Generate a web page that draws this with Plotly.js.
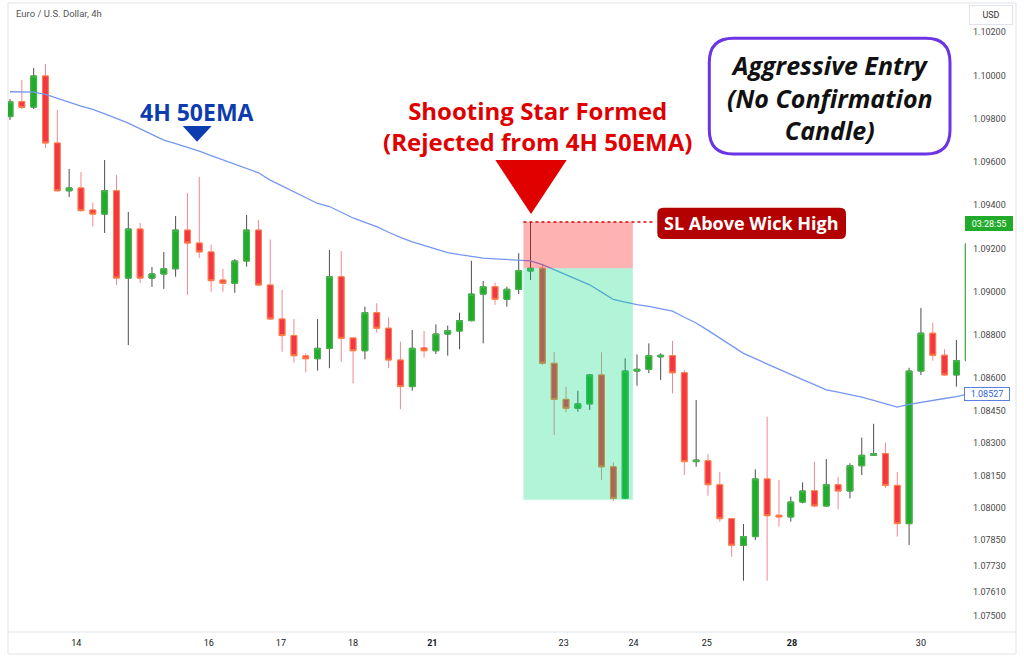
<!DOCTYPE html>
<html><head><meta charset="utf-8">
<script src="https://cdn.plot.ly/plotly-3.0.1.min.js"></script>
<style>html,body{margin:0;padding:0;background:#fff}#chart{width:1024px;height:662px}</style>
</head><body><div id="chart"></div>
<script>
// ---- data (EUR/USD 4h candles) ----
const opens = [1.09810,1.09879,1.09854,1.09998,1.09688,1.09467,1.09480,1.09378,1.09359,1.09467,
1.09063,1.09290,1.09063,1.09082,1.09106,1.09285,1.09225,1.09184,1.09054,1.09039,
1.09142,1.09285,1.09031,1.08874,1.08797,1.08703,1.08690,1.08738,1.09069,1.08786,
1.08727,1.08903,1.08831,1.08684,1.08561,1.08740,1.08727,1.08804,1.08818,1.08866,
1.08989,1.09023,1.08965,1.09011,1.09096,1.09108,1.08669,1.08502,1.08461,1.08481,
1.08615,1.08190,1.08044,1.08633,1.08641,1.08699,1.08704,1.08625,1.08214,1.08218,
1.08107,1.07950,1.07827,1.07867,1.08134,1.07966,1.07958,1.08027,1.08079,1.08009,
1.08107,1.08078,1.08195,1.08243,1.08251,1.08104,1.07927,1.08633,1.08808,1.08706,
1.08615,1.08681];
const highs = [1.09891,1.09979,1.10035,1.10053,1.09841,1.09568,1.09554,1.09412,1.09609,1.09540,
1.09369,1.09318,1.09114,1.09184,1.09350,1.09457,1.09531,1.09217,1.09105,1.09151,
1.09355,1.09332,1.09242,1.09008,1.08874,1.08715,1.08874,1.09193,1.09188,1.08787,
1.08931,1.08946,1.08882,1.08769,1.08823,1.08818,1.08849,1.08843,1.08903,1.09143,
1.09050,1.09042,1.09023,1.09178,1.09322,1.09124,1.08720,1.08561,1.08542,1.08619,
1.08720,1.08211,1.08692,1.08710,1.08761,1.08715,1.08772,1.08638,1.08499,1.08249,
1.08167,1.07953,1.07925,1.08178,1.08422,1.08129,1.08052,1.08118,1.08214,1.08226,
1.08144,1.08206,1.08325,1.08389,1.08302,1.08166,1.08648,1.08925,1.08857,1.08734,
1.08777,1.09221];
const lows = [1.09794,1.09845,1.09845,1.09665,1.09464,1.09438,1.09370,1.09301,1.09272,1.09031,
1.08753,1.09040,1.09022,1.09013,1.09069,1.08985,1.09156,1.09000,1.09000,1.08995,
1.09116,1.09026,1.08869,1.08722,1.08672,1.08627,1.08635,1.08646,1.08676,1.08576,
1.08687,1.08810,1.08646,1.08456,1.08542,1.08695,1.08712,1.08704,1.08734,1.08863,
1.08761,1.08939,1.08931,1.08989,1.09054,1.08661,1.08337,1.08442,1.08445,1.08453,
1.08129,1.08032,1.08040,1.08565,1.08623,1.08592,1.08530,1.08152,1.08190,1.08056,
1.07936,1.07774,1.07663,1.07851,1.07663,1.07913,1.07936,1.08021,1.08003,1.08005,
1.07993,1.08044,1.08152,1.08240,1.08091,1.07867,1.07828,1.08615,1.08681,1.08610,
1.08561,1.08676];
const closes = [1.09879,1.09853,1.09998,1.09688,1.09467,1.09480,1.09375,1.09359,1.09467,1.09063,
1.09290,1.09063,1.09082,1.09106,1.09285,1.09225,1.09184,1.09051,1.09039,1.09142,
1.09285,1.09031,1.08874,1.08797,1.08704,1.08690,1.08738,1.09069,1.08784,1.08727,
1.08903,1.08831,1.08684,1.08561,1.08738,1.08727,1.08804,1.08820,1.08866,1.08989,
1.09023,1.08965,1.09011,1.09097,1.09108,1.08669,1.08502,1.08461,1.08481,1.08615,
1.08190,1.08044,1.08633,1.08641,1.08704,1.08706,1.08625,1.08214,1.08221,1.08107,
1.07950,1.07827,1.07867,1.08134,1.07964,1.07958,1.08027,1.08078,1.08009,1.08107,
1.08078,1.08195,1.08243,1.08251,1.08104,1.07927,1.08633,1.08808,1.08706,1.08615,
1.08681,1.09221];
const ema50 = [1.09925,1.09924,1.09923,1.09913,1.09894,1.09876,1.09859,1.09843,1.09824,1.09802,
1.09780,1.09754,1.09727,1.09701,1.09685,1.09669,1.09650,1.09629,1.09609,1.09588,
1.09569,1.09550,1.09516,1.09489,1.09461,1.09433,1.09408,1.09394,1.09367,1.09341,
1.09321,1.09301,1.09275,1.09251,1.09231,1.09215,1.09198,1.09181,1.09171,1.09163,
1.09155,1.09152,1.09149,1.09146,1.09143,1.09125,1.09101,1.09079,1.09055,1.09032,
1.08998,1.08964,1.08952,1.08940,1.08932,1.08922,1.08910,1.08882,1.08855,1.08821,
1.08785,1.08748,1.08715,1.08690,1.08665,1.08640,1.08617,1.08593,1.08570,1.08546,
1.08535,1.08524,1.08512,1.08497,1.08481,1.08466,1.08479,1.08489,1.08499,1.08506,
1.08515,1.08527];

// time-axis labels (day starts, in bar-index units)
const dayTickPos = [5.6, 16.8, 22.9, 29, 35.7, 46.8, 52.7, 58.9, 66.1, 77];
const dayTickText = ['14','16','17','18','<b>21</b>','23','24','25','<b>28</b>','30'];
// price-axis labels
const priceTicks = [1.102,1.100,1.098,1.096,1.094,1.092,1.090,1.088,1.086,1.0845,1.083,1.0815,1.080,1.0785,1.0773,1.0761,1.075];

// trade tool (short position) values
const tradeStartBar = 43.4, tradeEndBar = 52.65, slLineEndBar = 54.5;
const stopLoss = 1.09323, entryPrice = 1.09108, takeProfit = 1.08037;
const countdownPrice = 1.09316, countdownText = '03:28:55';

// ---- build ----
const barIndex = opens.map((_, i) => i);
const bodyHigh = opens.map((o, i) => Math.max(o, closes[i]));
const bodyLow = opens.map((o, i) => Math.min(o, closes[i]));

const plotL = 8, plotR = 966, plotT = 3, plotB = 632;
const px = x => (x - plotL) / (plotR - plotL);
const py = y => (plotB - y) / (plotB - plotT);

function roundRect(x0, y0, x1, y1, r) {
  const P = (x, y) => px(x).toFixed(5) + ',' + py(y).toFixed(5);
  return 'M' + P(x0 + r, y0) + ' L' + P(x1 - r, y0) + ' Q' + P(x1, y0) + ' ' + P(x1, y0 + r) +
    ' L' + P(x1, y1 - r) + ' Q' + P(x1, y1) + ' ' + P(x1 - r, y1) +
    ' L' + P(x0 + r, y1) + ' Q' + P(x0, y1) + ' ' + P(x0, y1 - r) +
    ' L' + P(x0, y0 + r) + ' Q' + P(x0, y0) + ' ' + P(x0 + r, y0) + ' Z';
}
function tri(ax, ay, bx, by, cx, cy) {
  return 'M' + px(ax) + ',' + py(ay) + ' L' + px(bx) + ',' + py(by) + ' L' + px(cx) + ',' + py(cy) + ' Z';
}

const wicks = {
  type: 'candlestick', x: barIndex, open: opens, high: highs, low: lows, close: closes,
  increasing: {line: {color: '#4d4d4d', width: 1}, fillcolor: 'rgba(0,0,0,0)'},
  decreasing: {line: {color: '#f5868f', width: 1}, fillcolor: 'rgba(0,0,0,0)'},
  hoverinfo: 'skip', showlegend: false
};
const bodies = {
  type: 'candlestick', x: barIndex, open: opens, high: bodyHigh, low: bodyLow, close: closes,
  increasing: {line: {color: '#45bb4b', width: 1}, fillcolor: '#22ab2a'},
  decreasing: {line: {color: '#ff8040', width: 1}, fillcolor: '#f23645'},
  hoverinfo: 'skip', showlegend: false
};
const emaLine = {
  type: 'scatter', mode: 'lines', x: barIndex, y: ema50,
  line: {color: '#7597f2', width: 1.3}, hoverinfo: 'skip', showlegend: false
};

const shapes = [
  {type: 'rect', xref: 'paper', yref: 'paper', x0: 0, x1: px(1016), y0: py(654), y1: 1,
   line: {color: '#e0e3eb', width: 1}, layer: 'below'},
  {type: 'line', xref: 'paper', yref: 'paper', x0: 0, x1: px(1016), y0: 0, y1: 0,
   line: {color: '#e0e3eb', width: 1}, layer: 'below'},
  {type: 'rect', xref: 'x', yref: 'y', x0: tradeStartBar, x1: tradeEndBar, y0: entryPrice, y1: stopLoss,
   fillcolor: 'rgba(255,0,0,0.3)', line: {width: 0}, layer: 'above'},
  {type: 'rect', xref: 'x', yref: 'y', x0: tradeStartBar, x1: tradeEndBar, y0: takeProfit, y1: entryPrice,
   fillcolor: 'rgba(0,220,125,0.3)', line: {width: 0}, layer: 'above'},
  {type: 'line', xref: 'x', yref: 'y', x0: tradeStartBar, x1: slLineEndBar, y0: stopLoss, y1: stopLoss,
   line: {color: '#e00000', width: 1.5, dash: 'dot'}, layer: 'above'},
  {type: 'path', xref: 'paper', yref: 'paper', path: tri(495.3, 160, 566.7, 160, 531, 214),
   fillcolor: '#e00000', line: {width: 0}, layer: 'above'},
  {type: 'path', xref: 'paper', yref: 'paper', path: tri(182.7, 126, 211.7, 126, 197, 141.7),
   fillcolor: '#0d3caf', line: {width: 0}, layer: 'above'},
  {type: 'path', xref: 'paper', yref: 'paper', path: roundRect(709.3, 38.3, 950, 154, 24),
   fillcolor: '#ffffff', line: {color: '#6b35e6', width: 3}, layer: 'above'},
  {type: 'path', xref: 'paper', yref: 'paper', path: roundRect(657.3, 207.7, 846, 239, 6),
   fillcolor: '#b30000', line: {width: 0}, layer: 'above'}
];

const annFont = (size, color, weight, style, family) => ({family: family || 'Open Sans', size, color, weight: weight || 400, style: style || 'normal'});
const annotations = [
  {xref: 'paper', yref: 'paper', x: px(14), y: py(13.3), xanchor: 'left', yanchor: 'middle', showarrow: false,
   text: 'Euro / U.S. Dollar, 4h', font: annFont(9.5, '#555555', 400, 'normal', 'Roboto')},
  {xref: 'paper', yref: 'paper', x: px(196.5), y: py(111.7), xanchor: 'center', yanchor: 'middle', showarrow: false,
   text: '4H 50EMA', font: annFont(23, '#0d3caf', 700)},
  {xref: 'paper', yref: 'paper', x: px(537.2), y: py(125.5), xanchor: 'center', yanchor: 'middle', showarrow: false,
   text: 'Shooting Star Formed<br>(Rejected from 4H 50EMA)', font: annFont(24, '#e00000', 700)},
  {xref: 'paper', yref: 'paper', x: px(829.5), y: py(98), xanchor: 'center', yanchor: 'middle', showarrow: false,
   text: 'Aggressive Entry<br>(No Confirmation<br>Candle)', font: annFont(25, '#111111', 700, 'italic')},
  {xref: 'paper', yref: 'paper', x: px(751.7), y: py(223.3), xanchor: 'center', yanchor: 'middle', showarrow: false,
   text: 'SL Above Wick High', font: annFont(18, '#ffffff', 700)},
  {xref: 'paper', yref: 'paper', x: px(991), y: py(15), xanchor: 'center', yanchor: 'middle', showarrow: false,
   text: 'USD', width: 40, height: 16, borderpad: 1, bordercolor: '#e0e3eb', borderwidth: 1, bgcolor: '#ffffff',
   font: annFont(9, '#333333', 400, 'normal', 'Roboto')},
  {xref: 'paper', yref: 'y', x: px(965), y: countdownPrice, xanchor: 'left', yanchor: 'middle', showarrow: false,
   text: countdownText, width: 44, height: 11, borderpad: 1, bgcolor: '#22ab2a', bordercolor: '#22ab2a', borderwidth: 1,
   font: annFont(9, '#ffffff', 400, 'normal', 'Roboto')},
  {xref: 'paper', yref: 'y', x: px(964), y: ema50[ema50.length - 1], xanchor: 'left', yanchor: 'middle', showarrow: false,
   text: ema50[ema50.length - 1].toFixed(5), width: 42, height: 10, borderpad: 1, bgcolor: '#ffffff', bordercolor: '#5b7fe0', borderwidth: 1,
   font: annFont(9, '#2f5fe0', 400, 'normal', 'Roboto')}
];

const layout = {
  width: 1024, height: 662,
  margin: {l: plotL, r: 1024 - plotR, t: plotT, b: 662 - plotB, pad: 0},
  paper_bgcolor: '#ffffff', plot_bgcolor: '#ffffff',
  showlegend: false, dragmode: false,
  font: {family: 'Roboto', size: 9, color: '#131722'},
  xaxis: {
    range: [-0.169, 80.81], tickmode: 'array', tickvals: dayTickPos, ticktext: dayTickText,
    showgrid: false, zeroline: false, showline: false, ticks: '', ticklabelstandoff: 4,
    rangeslider: {visible: false}, fixedrange: true,
    tickfont: {family: 'Roboto', size: 9, color: '#131722'}
  },
  yaxis: {
    side: 'right', range: [1.074258, 1.103355], tickmode: 'array', tickvals: priceTicks,
    ticktext: priceTicks.map(v => v.toFixed(5)),
    showgrid: false, zeroline: false, showline: false, ticks: '', ticklabelstandoff: 6, fixedrange: true,
    tickfont: {family: 'Roboto', size: 9, color: '#4a4a4a'}
  },
  shapes, annotations
};

Plotly.newPlot('chart', [wicks, bodies, emaLine], layout, {staticPlot: true, displayModeBar: false});
</script>
</body></html>
